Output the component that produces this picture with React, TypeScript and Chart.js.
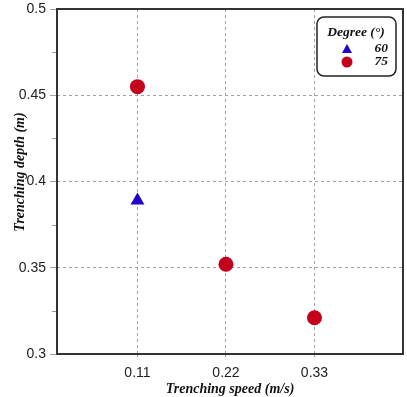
import React, { useEffect, useRef } from "react";
import { Chart, registerables } from "chart.js";

Chart.register(...registerables);

const xTicks = [0.11, 0.22, 0.33];
const yMinorTicks = [0.325, 0.375, 0.425, 0.475];
const series60X = [0.11];
const series60Y = [0.389];
const series75X = [0.11, 0.22, 0.33];
const series75Y = [0.455, 0.352, 0.321];
const seriesLabels = ["60", "75"];
const legendTitle = "Degree (°)";
const xTitle = "Trenching speed (m/s)";
const yTitle = "Trenching depth (m)";

const BLUE = "#2200cc";
const RED = "#c4001c";
const SERIF = "'Liberation Serif', 'Times New Roman', serif";
const SANS = "'Liberation Sans', Arial, sans-serif";

const framePlugin = {
  id: "framePlugin",
  afterDraw(chart: any) {
    const { ctx, chartArea: a, scales } = chart;
    ctx.save();
    // minor ticks on y axis
    ctx.strokeStyle = "#999";
    ctx.lineWidth = 1;
    yMinorTicks.forEach((v) => {
      const y = Math.round(scales.y.getPixelForValue(v)) + 0.5;
      ctx.beginPath();
      ctx.moveTo(a.left - 5, y);
      ctx.lineTo(a.left, y);
      ctx.stroke();
    });
    // frame
    ctx.strokeStyle = "#333";
    ctx.lineWidth = 2;
    ctx.strokeRect(a.left, a.top, a.right - a.left, a.bottom - a.top);

    // y axis title
    ctx.save();
    ctx.translate(20, 172);
    ctx.rotate(-Math.PI / 2);
    ctx.fillStyle = "#111";
    ctx.font = `bold italic 14px ${SERIF}`;
    ctx.textAlign = "center";
    ctx.textBaseline = "middle";
    ctx.fillText(yTitle, 0, 0);
    ctx.restore();

    // legend box
    const bx = 317, by = 17, bw = 79, bh = 59, r = 7;
    ctx.beginPath();
    ctx.moveTo(bx + r, by);
    ctx.lineTo(bx + bw - r, by);
    ctx.arcTo(bx + bw, by, bx + bw, by + r, r);
    ctx.lineTo(bx + bw, by + bh - r);
    ctx.arcTo(bx + bw, by + bh, bx + bw - r, by + bh, r);
    ctx.lineTo(bx + r, by + bh);
    ctx.arcTo(bx, by + bh, bx, by + bh - r, r);
    ctx.lineTo(bx, by + r);
    ctx.arcTo(bx, by, bx + r, by, r);
    ctx.closePath();
    ctx.fillStyle = "#fff";
    ctx.fill();
    ctx.strokeStyle = "#222";
    ctx.lineWidth = 1.5;
    ctx.stroke();

    ctx.fillStyle = "#111";
    ctx.font = `bold italic 13.5px ${SERIF}`;
    ctx.textAlign = "center";
    ctx.textBaseline = "middle";
    ctx.fillText(legendTitle, 356, 33);

    // triangle
    ctx.fillStyle = BLUE;
    ctx.beginPath();
    ctx.moveTo(347, 44);
    ctx.lineTo(352, 53);
    ctx.lineTo(342, 53);
    ctx.closePath();
    ctx.fill();
    // circle
    ctx.fillStyle = RED;
    ctx.beginPath();
    ctx.arc(347, 62, 5.5, 0, Math.PI * 2);
    ctx.fill();

    ctx.fillStyle = "#111";
    ctx.textAlign = "right";
    ctx.fillText(seriesLabels[0], 388, 49);
    ctx.fillText(seriesLabels[1], 388, 62);
    ctx.restore();
  },
};

export default function App() {
  const ref = useRef<HTMLCanvasElement>(null);
  useEffect(() => {
    document.body.style.margin = "0";
    const chart = new Chart(ref.current!, {
      type: "scatter",
      data: {
        datasets: [
          {
            label: seriesLabels[0],
            data: series60X.map((x, i) => ({ x, y: series60Y[i] })),
            pointStyle: "triangle",
            pointRadius: 8,
            backgroundColor: BLUE,
            borderColor: BLUE,
            borderWidth: 0,
          },
          {
            label: seriesLabels[1],
            data: series75X.map((x, i) => ({ x, y: series75Y[i] })),
            pointStyle: "circle",
            pointRadius: 7.5,
            backgroundColor: RED,
            borderColor: RED,
            borderWidth: 0,
          },
        ],
      },
      options: {
        animation: false,
        responsive: false,
        layout: { autoPadding: false, padding: { top: 9, right: 4, left: 0, bottom: 0 } },
        plugins: { legend: { display: false }, tooltip: { enabled: false } },
        scales: {
          x: {
            type: "linear",
            min: 0.01,
            max: 0.44,
            afterBuildTicks: (s: any) => {
              s.ticks = xTicks.map((v) => ({ value: v }));
            },
            afterFit: (s: any) => {
              s.height = 43;
              s.paddingLeft = 0;
              s.paddingRight = 0;
            },
            grid: {
              color: "#a0a0a0",
              lineWidth: 1,
              tickLength: 6,
              tickColor: "#a0a0a0",
              tickBorderDash: [3, 3],
              borderDash: [3, 3],
            } as any,
            border: { display: false, dash: [3, 3] },
            ticks: {
              color: "#222",
              font: { family: SANS, size: 14 },
              padding: 5,
              maxRotation: 0,
              callback: (v: any) => String(Math.round(v * 100) / 100),
            },
            title: {
              display: true,
              text: xTitle,
              color: "#111",
              font: { family: SERIF, size: 14, weight: "bold", style: "italic", lineHeight: 1.15 },
              padding: { top: 0, bottom: 0 },
            },
          },
          y: {
            type: "linear",
            min: 0.3,
            max: 0.5,
            ticks: {
              stepSize: 0.05,
              color: "#222",
              font: { family: SANS, size: 14 },
              padding: 4,
              callback: (v: any) => String(Math.round(v * 100) / 100),
            },
            afterFit: (s: any) => {
              s.width = 57;
              s.paddingTop = 0;
              s.paddingBottom = 0;
            },
            grid: {
              color: "#a0a0a0",
              lineWidth: 1,
              tickLength: 7,
              tickColor: "#a0a0a0",
              borderDash: [3, 3],
            } as any,
            border: { display: false, dash: [3, 3] },
            title: { display: false, text: yTitle },
          },
        },
      },
      plugins: [framePlugin],
    } as any);
    return () => chart.destroy();
  }, []);
  return (
    <div style={{ position: "absolute", left: 0, top: 0, width: 407, height: 397, background: "#fff" }}>
      <canvas ref={ref} width={407} height={397} style={{ width: 407, height: 397 }} />
    </div>
  );
}
